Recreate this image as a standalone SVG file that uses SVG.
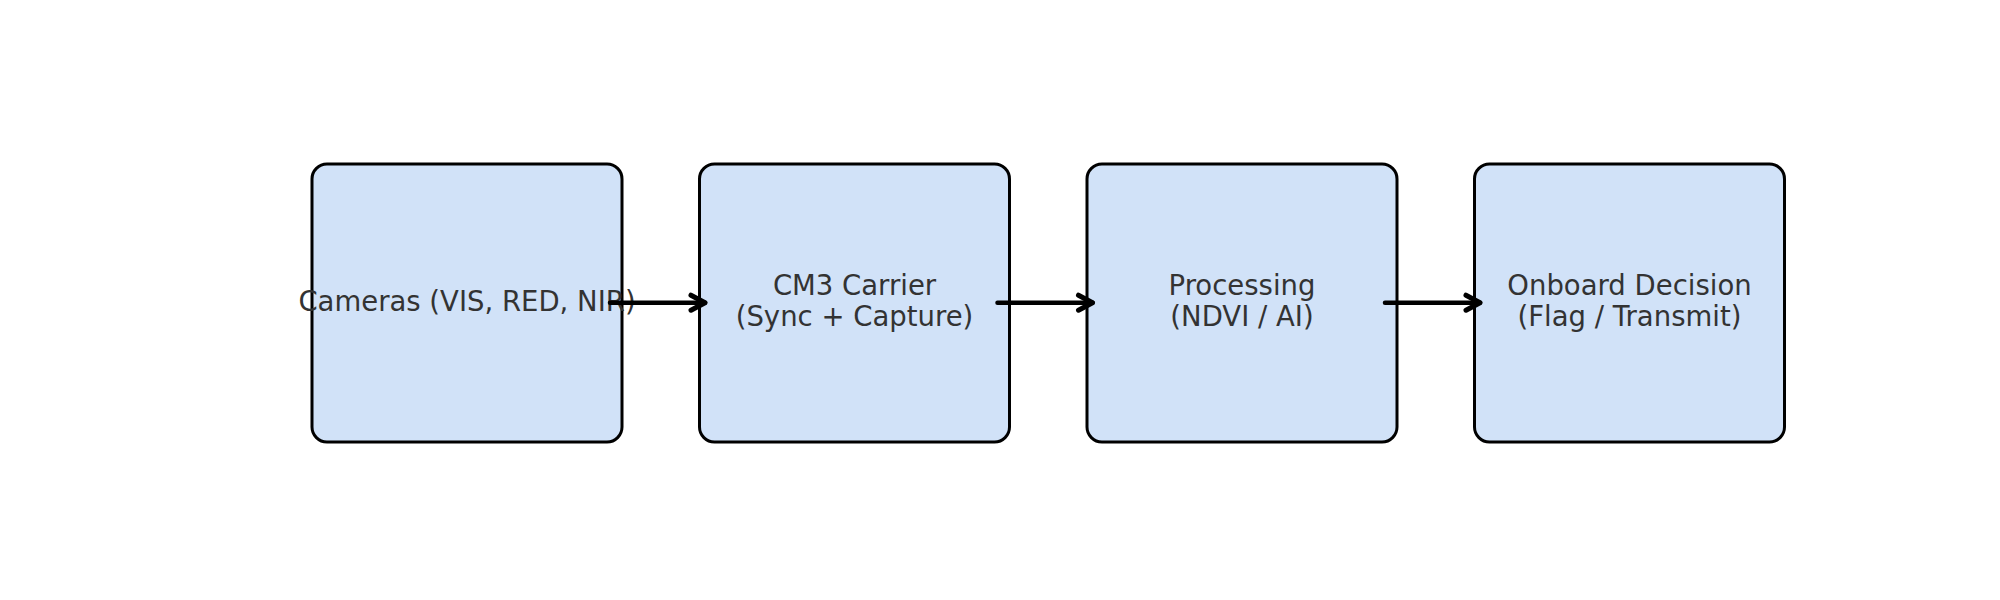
<svg xmlns="http://www.w3.org/2000/svg" width="2000" height="600" viewBox="0 0 2000 600">
<style>
.box{fill:#d1e2f8;stroke:#000;stroke-width:3}
.lbl{font-family:"DejaVu Sans",sans-serif;font-size:27.5px;fill:#333333;text-anchor:middle}
.conn{fill:none;stroke:#000;stroke-width:4.5;stroke-linecap:round;stroke-linejoin:round}
</style>
<defs>
<marker id="head" markerUnits="userSpaceOnUse" markerWidth="30" markerHeight="30" viewBox="-20 -15 30 30" refX="0" refY="0" orient="auto">
<path d="M-14,-7.5 L0,0 L-14,7.5" fill="none" stroke="#000" stroke-width="5" stroke-linecap="round" stroke-linejoin="round"/>
</marker>
</defs>
<rect width="2000" height="600" fill="#fff"/>
<g id="node-cameras">
<rect class="box" x="312" y="164" width="310" height="278" rx="15"/>
<text class="lbl" x="467" y="311">Cameras (VIS, RED, NIR)</text>
</g>
<g id="node-cm3">
<rect class="box" x="699.5" y="164" width="310" height="278" rx="15"/>
<text class="lbl" x="854.5" y="295">CM3 Carrier</text>
<text class="lbl" x="854.5" y="326">(Sync + Capture)</text>
</g>
<g id="node-processing">
<rect class="box" x="1087" y="164" width="310" height="278" rx="15"/>
<text class="lbl" x="1242" y="295">Processing</text>
<text class="lbl" x="1242" y="326">(NDVI / AI)</text>
</g>
<g id="node-decision">
<rect class="box" x="1474.5" y="164" width="310" height="278" rx="15"/>
<text class="lbl" x="1629.5" y="295">Onboard Decision</text>
<text class="lbl" x="1629.5" y="326">(Flag / Transmit)</text>
</g>
<g id="connectors">
<path class="conn" d="M610,302.7 L705,302.7" marker-end="url(#head)"/>
<path class="conn" d="M997.5,302.7 L1092.5,302.7" marker-end="url(#head)"/>
<path class="conn" d="M1385,302.7 L1480,302.7" marker-end="url(#head)"/>
</g>
</svg>
